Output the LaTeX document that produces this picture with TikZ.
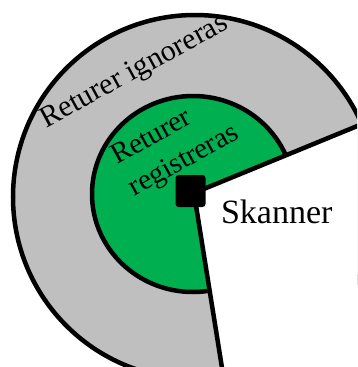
\documentclass[tikz,border=0pt]{standalone}
\usepackage{fontspec}
\setmainfont{Liberation Serif}
\usetikzlibrary{calc}
\definecolor{ringgray}{RGB}{191,191,191}
\definecolor{zonegreen}{RGB}{0,176,80}
\begin{document}
\begin{tikzpicture}[x=1pt,y=-1pt,
  edge/.style={line width=4.5pt,black},
  lbl/.style={inner sep=0pt,outer sep=0pt,text=black}]
\useasboundingbox (0,0) rectangle (357,367);
\clip (0,0) rectangle (357,367);
% outer ring
\fill[ringgray,draw=black,line width=4.5pt] (195,197) circle [radius=182];
% inner green zone
\fill[zonegreen,draw=black,line width=4.5pt] (193,194) ellipse [x radius=101,y radius=98];
% wedge geometry
\coordinate (apex) at (194,193);
\coordinate (rend) at ($(apex)+(-22.3:300)$);
\coordinate (bend) at ($(apex)+(80.9:300)$);
\fill[white] (apex) -- (rend) -- (600,600) -- (bend) -- cycle;
\draw[edge] (apex) -- (rend);
\draw[edge] (apex) -- (bend);
% scanner
\node[fill=black,minimum width=30pt,minimum height=32pt,rounded corners=3pt,inner sep=0pt] (scanner) at (190.5,191) {};
% labels
\node[lbl,anchor=base west,font=\fontsize{34}{40}\selectfont] (skan) at (221,223) {Skanner};
\node[lbl,anchor=base west,rotate=28.5,font=\fontsize{30}{34}\selectfont] (ign) at (46,128) {Returer ignoreras};
\node[lbl,anchor=west,align=left,rotate=29,font=\fontsize{29}{36}\selectfont] (reg) at (123,175) {Returer\\registreras};
\end{tikzpicture}
\end{document}
